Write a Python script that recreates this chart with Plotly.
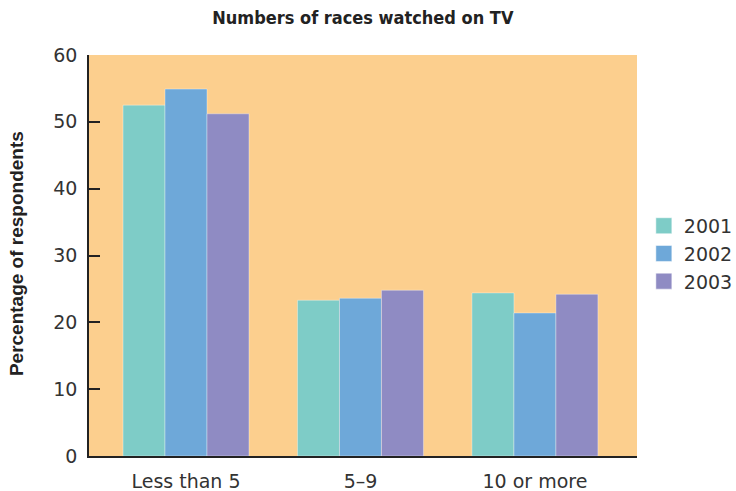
import plotly.graph_objects as go

categories = ["Less than 5", "5–9", "10 or more"]
years = ["2001", "2002", "2003"]
values_2001 = [52.5, 23.3, 24.4]
values_2002 = [54.9, 23.6, 21.4]
values_2003 = [51.2, 24.8, 24.2]
colors = ["#7ECCC7", "#6EA8D9", "#8F8BC3"]
y_ticks = [0, 10, 20, 30, 40, 50, 60]

series = [values_2001, values_2002, values_2003]
TICK_FONT = "DejaVu Sans, Verdana, sans-serif"

fig = go.Figure()
for name, vals, col in zip(years, series, colors):
    fig.add_trace(go.Bar(
        x=categories, y=vals, name=name, showlegend=False,
        marker=dict(color=col, line=dict(color="rgba(255,255,255,0.35)", width=1)),
    ))
# legend entries with larger square swatches
for name, col in zip(years, colors):
    fig.add_trace(go.Scatter(
        x=[None], y=[None], mode="markers", name=name, legendgroup=name,
        marker=dict(symbol="square", size=18, color=col,
                    line=dict(color="rgba(255,255,255,0.5)", width=1)),
    ))

fig.update_layout(
    width=736, height=491,
    margin=dict(l=89, r=99, t=55, b=35, autoexpand=False),
    paper_bgcolor="white",
    plot_bgcolor="#FCCF8E",
    barmode="group",
    bargap=0.278,
    bargroupgap=0,
    font=dict(family=TICK_FONT, size=19, color="#333333"),
    title=dict(
        text="<b>Numbers of races watched on TV</b>",
        x=0.493, xanchor="center", y=0.963, yanchor="middle",
        font=dict(family="Liberation Sans Narrow, DejaVu Sans Condensed, sans-serif", size=18, color="#222222"),
    ),
    legend=dict(
        x=1.0125, xanchor="left", y=0.504, yanchor="middle",
        font=dict(family=TICK_FONT, size=19, color="#333333"),
        tracegroupgap=0,
        bgcolor="rgba(0,0,0,0)",
    ),
    showlegend=True,
    annotations=[dict(
        text="<b>Percentage of respondents</b>", textangle=-90,
        xref="paper", yref="paper", x=-0.131, y=0.504,
        xanchor="center", yanchor="middle", showarrow=False,
        font=dict(family="Liberation Sans, Arial, sans-serif", size=19, color="#222222"),
    )],
)
fig.update_xaxes(
    range=[-0.556, 2.585], automargin=False,
    showline=True, linecolor="#222222", linewidth=2,
    ticks="", showgrid=False, zeroline=False,
    ticklabelstandoff=7,
    tickfont=dict(family=TICK_FONT, size=19, color="#333333"),
)
fig.update_yaxes(
    range=[0, 60], tickvals=y_ticks, automargin=False,
    showline=True, linecolor="#222222", linewidth=1.5,
    ticks="inside", ticklen=11, tickcolor="#222222", tickwidth=1.5,
    ticklabelstandoff=6,
    showgrid=False, zeroline=False,
    tickfont=dict(family=TICK_FONT, size=19, color="#333333"),
)

fig.write_html("out.html", config={"displayModeBar": False},
               post_script="document.body.style.margin='0';")
